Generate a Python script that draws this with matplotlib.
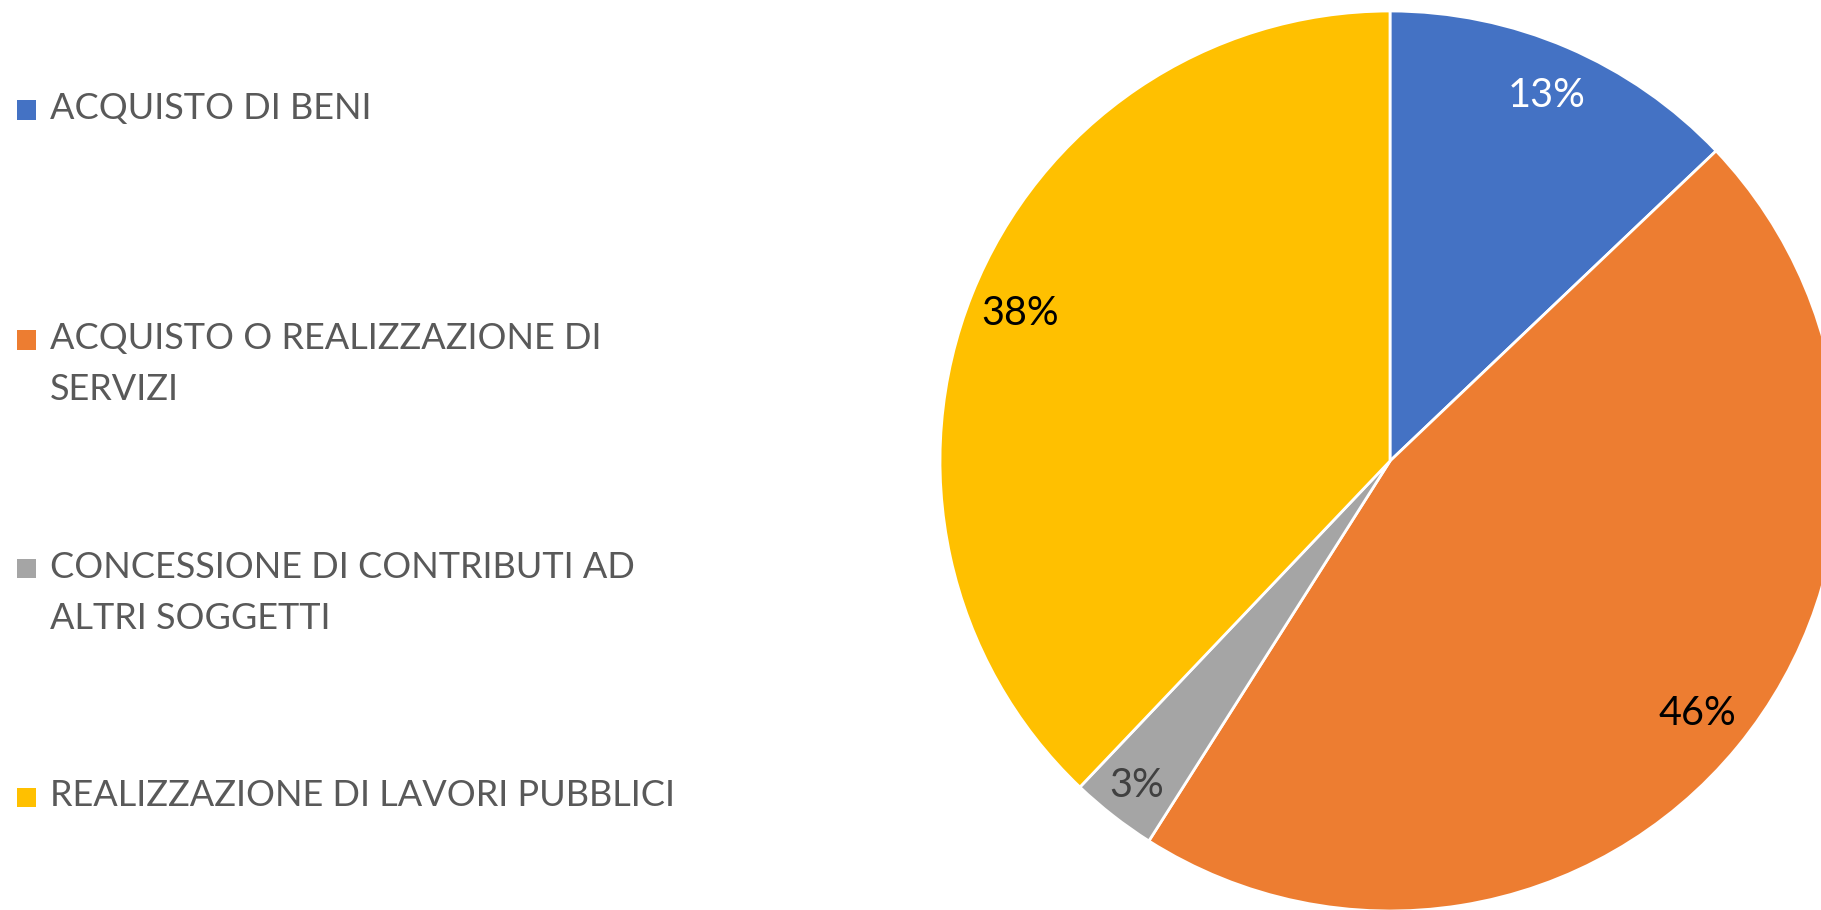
import matplotlib
matplotlib.use("Agg")
import numpy as np
import matplotlib.pyplot as plt
from matplotlib.patches import Rectangle

categories = [
    "ACQUISTO DI BENI",
    "ACQUISTO O REALIZZAZIONE DI\nSERVIZI",
    "CONCESSIONE DI CONTRIBUTI AD\nALTRI SOGGETTI",
    "REALIZZAZIONE DI LAVORI PUBBLICI",
]
values = [12.9, 46.1, 3.1, 37.9]
colors = ["#4472C4", "#ED7D31", "#A5A5A5", "#FFC000"]
label_colors = ["white", "black", "#404040", "black"]
label_dist = [0.885, 0.885, 0.915, 0.885]

W, H = 1821, 910
fig = plt.figure(figsize=(W / 100, H / 100), dpi=100)
plt.rcParams['font.family'] = ['Lato', 'DejaVu Sans']

cx, cy, r = 1390, 461, 450
ax = fig.add_axes([(cx - r) / W, (H - cy - r) / H, 2 * r / W, 2 * r / H])
wedges, texts, autotexts = ax.pie(
    values, colors=colors, startangle=90, counterclock=False,
    autopct='%1.0f%%', pctdistance=0.885,
    wedgeprops=dict(edgecolor='white', linewidth=2),
    textprops=dict(fontsize=28.5),
)
for w, t, c, d in zip(wedges, autotexts, label_colors, label_dist):
    t.set_color(c)
    ang = np.deg2rad((w.theta1 + w.theta2) / 2)
    t.set_position((d * np.cos(ang), d * np.sin(ang)))
ax.set_xlim(-1, 1)
ax.set_ylim(-1, 1)
ax.set_aspect('equal')
ax.axis('off')

baselines = [119.5, 349.5, 578, 806.5]
line_gap = 51
for lab, col, b in zip(categories, colors, baselines):
    fig.patches.append(Rectangle((17 / W, (H - b) / H), 19 / W, 19 / H,
                                 transform=fig.transFigure, facecolor=col,
                                 edgecolor='none'))
    for i, line in enumerate(lab.split("\n")):
        fig.text(50 / W, (H - b - i * line_gap) / H, line, fontsize=26,
                 color="#595959", va='baseline', ha='left')

fig.savefig("out.png", dpi=100)
